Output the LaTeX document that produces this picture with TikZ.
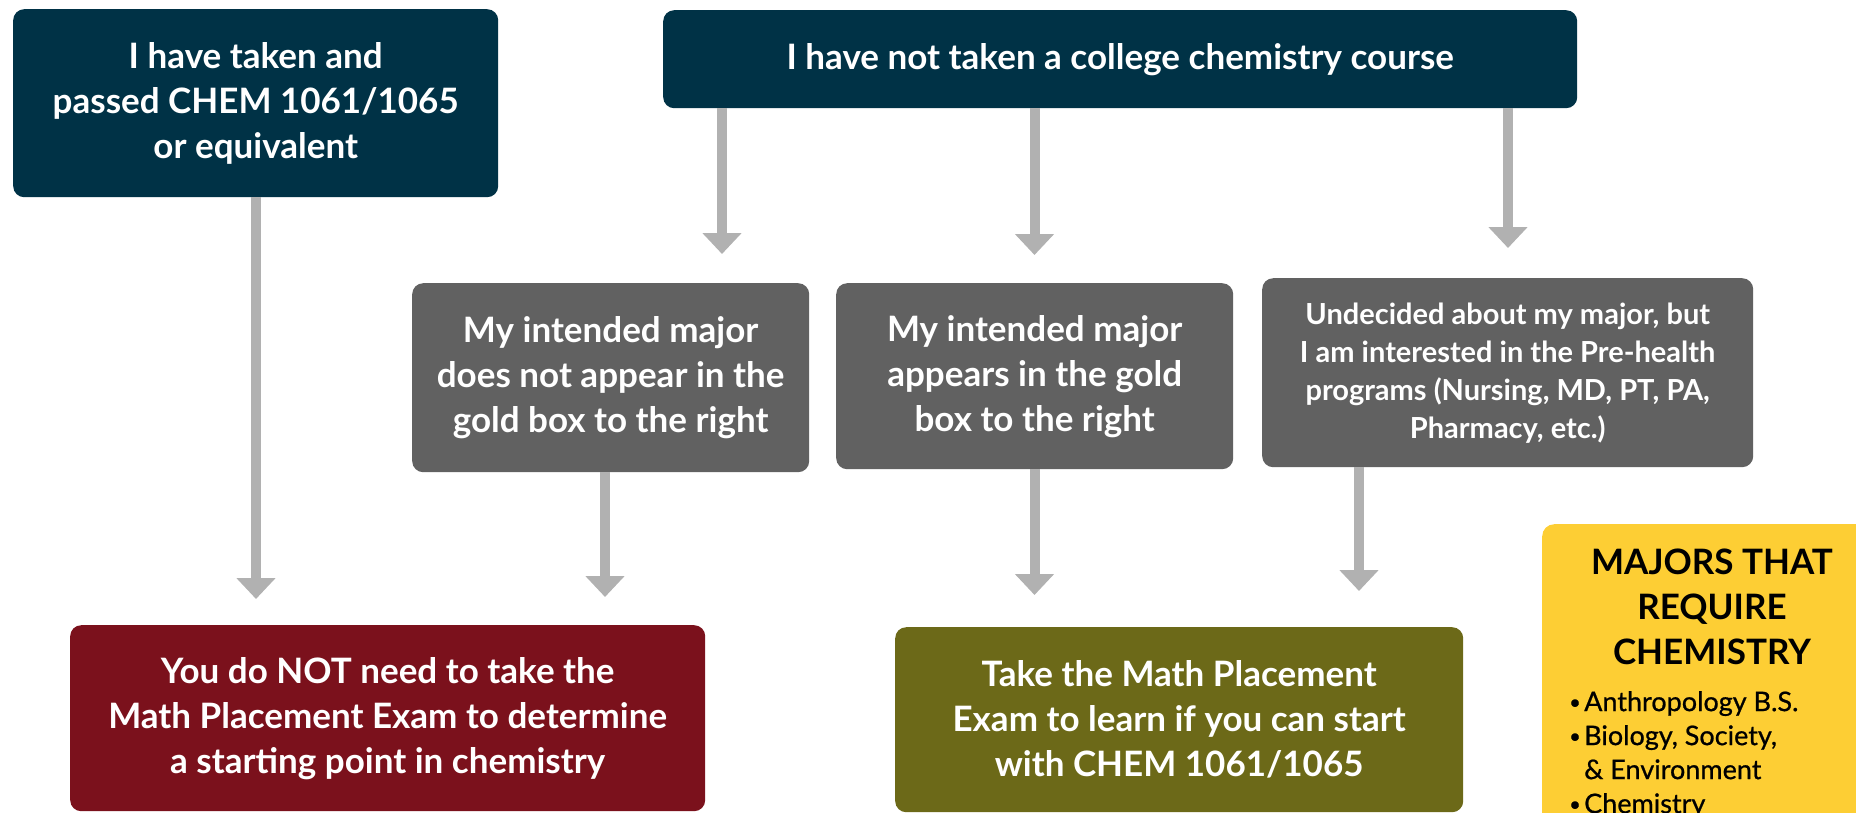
\documentclass[tikz,border=0pt]{standalone}
\usepackage{fontspec}
\setmainfont{Lato}
\newfontfamily\medfont[FakeBold=0.7]{Lato}
\usetikzlibrary{arrows.meta}
\definecolor{navy}{HTML}{003246}
\definecolor{slate}{HTML}{616161}
\definecolor{maroon}{HTML}{7B111C}
\definecolor{olivebox}{HTML}{6C6918}
\definecolor{goldbox}{HTML}{FDCE34}
\definecolor{arrowgray}{HTML}{B1B1B1}
\newcommand{\itembullet}{\makebox[15pt][l]{\raisebox{2pt}{\fontsize{20}{20}\selectfont •}}}
\tikzset{
  box/.style={rounded corners=11pt, anchor=north west, inner sep=0pt, text=white,
    align=center, font=\bfseries\fontsize{35}{45}\selectfont},
  smallbox/.style={box, font=\bfseries\fontsize{29}{38}\selectfont},
  arr/.style={draw=arrowgray, line width=10pt, -{Triangle[width=38pt,length=21pt]}},
}
\begin{document}
\begin{tikzpicture}[x=1pt,y=-1pt]
\useasboundingbox (0,0) rectangle (1856,812);
\clip (0,0) rectangle (1856,812);
\node[box, fill=navy, minimum width=485pt, minimum height=188pt] (A) at (13,9)
  {I have taken and\\passed CHEM 1061/1065\\or equivalent};
\node[box, fill=navy, minimum width=914pt, minimum height=98pt] (B) at (663,10)
  {I have not taken a college chemistry course};
\node[box, fill=slate, minimum width=397pt, minimum height=189pt] (C) at (412,283)
  {My intended major\\does not appear in the\\gold box to the right};
\node[box, fill=slate, minimum width=397pt, minimum height=186pt] (D) at (836,283)
  {My intended major\\appears in the gold\\box to the right};
\node[smallbox, fill=slate, minimum width=491pt, minimum height=189pt] (E) at (1262,278)
  {Undecided about my major, but\\I am interested in the Pre-health\\programs (Nursing, MD, PT, PA,\\Pharmacy, etc.)};
\node[box, fill=maroon, minimum width=635pt, minimum height=186pt] (F) at (70,625)
  {You do NOT need to take the\\Math Placement Exam to determine\\a starting point in chemistry};
\node[box, fill=olivebox, minimum width=568pt, minimum height=185pt] (G) at (895,627)
  {Take the Math Placement\\Exam to learn if you can start\\with CHEM 1061/1065};
\node[rounded corners=12pt, anchor=north west, inner sep=0pt, fill=goldbox,
  minimum width=400pt, minimum height=400pt] (gold) at (1542,524) {};
\node[anchor=north, inner sep=0pt, align=center, text=black,
  font=\bfseries\fontsize{35}{45}\selectfont] (title) at (1712,549)
  {MAJORS THAT\\REQUIRE\\CHEMISTRY};
\node[anchor=north west, inner sep=0pt, align=left, text=black,
  font=\medfont\fontsize{27}{34}\selectfont] (list) at (1569,691)
  {\itembullet Anthropology B.S.\\\itembullet Biology, Society,\\\hspace*{15pt}\& Environment\\\itembullet Chemistry};
\coordinate (t1) at (256,599);
\coordinate (t2) at (722,254);
\coordinate (t3) at (1034.5,255);
\coordinate (t4) at (1508,248);
\coordinate (t5) at (605,597);
\coordinate (t6) at (1034.5,595);
\coordinate (t7) at (1359,591);
\draw[arr] (t1 |- A.south) -- (t1);
\draw[arr] (t2 |- B.south) -- (t2);
\draw[arr] (t3 |- B.south) -- (t3);
\draw[arr] (t4 |- B.south) -- (t4);
\draw[arr] (t5 |- C.south) -- (t5);
\draw[arr] (t6 |- D.south) -- (t6);
\draw[arr] (t7 |- E.south) -- (t7);
\end{tikzpicture}
\end{document}
